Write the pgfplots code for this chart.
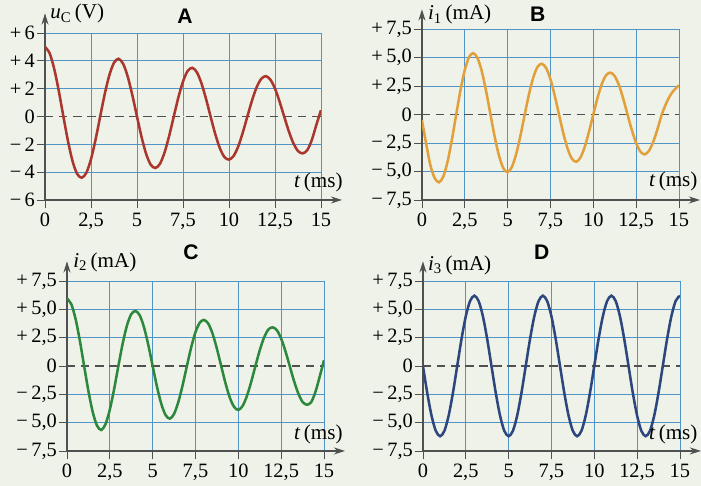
\documentclass[border=0pt]{standalone}
\usepackage{fontspec}
\setmainfont{Liberation Serif}
\newfontfamily\titlefont{Liberation Sans}
\usepackage{pgfplots}
\pgfplotsset{compat=1.18}
\usetikzlibrary{arrows.meta}
\definecolor{bgpaper}{RGB}{238,242,232}
\definecolor{gridblue}{RGB}{80,148,200}
\definecolor{axisgray}{RGB}{80,80,80}
\definecolor{curveA}{RGB}{170,55,45}
\definecolor{curveB}{RGB}{226,160,60}
\definecolor{curveC}{RGB}{45,135,60}
\definecolor{curveD}{RGB}{45,70,125}

\pgfplotsset{
  panel/.style={
    scale only axis, anchor=south west,
    xmin=0, xmax=15,
    xtick={0,2.5,...,15},
    xticklabels={0,{2,5},5,{7,5},10,{12,5},15},
    axis lines=left,
    axis line style={draw=axisgray, line width=0.8pt},
    x axis line style={-{Stealth[length=8pt,width=5pt]}, shorten >=-15pt},
    y axis line style={-{Stealth[length=8pt,width=5pt]}, shorten >=-14pt},
    grid=major,
    grid style={draw=gridblue, line width=0.6pt},
    tick align=outside,
    major tick length=6pt,
    tick style={draw=axisgray, line width=0.6pt},
    tick label style={font=\fontsize{14.5}{16}\selectfont},
    yticklabel style={inner xsep=1pt},
  },
  mA/.style={
    ymin=-7.5, ymax=7.5,
    ytick={-7.5,-5,...,7.5},
    yticklabels={{−\,7,5},{−\,5,0},{−\,2,5},0,{+\,2,5},{+\,5,0},{+\,7,5}},
  },
  zerobg/.style={draw=bgpaper, line width=1.4pt},
  zero/.style={draw=axisgray, line width=0.9pt, dash pattern=on 6pt off 4pt},
  curve/.style={smooth, line width=1.8pt},
}

\begin{document}
\begin{tikzpicture}
\fill[bgpaper] (0,0) rectangle (17.525cm,12.15cm);

% A
\begin{axis}[panel, at={(1.125cm,7.15cm)}, width=6.9cm, height=4.175cm,
  ymin=-6, ymax=6, ytick={-6,-4,...,6},
  yticklabels={−\,6,−\,4,−\,2,0,+\,2,+\,4,+\,6}]
\addplot[zerobg] coordinates {(0,0) (15,0)};
\addplot[zero] coordinates {(0,0) (15,0)};
\addplot[curve, curveA] coordinates {
(0,5.00)(0.25,4.55)(0.5,3.43)(0.75,1.83)(1,0)(1.25,-1.77)(1.5,-3.22)(1.75,-4.13)
(2,-4.40)(2.25,-4.04)(2.5,-3.07)(2.75,-1.65)(3,0)(3.25,1.63)(3.5,2.98)(3.75,3.86)
(4,4.15)(4.25,3.78)(4.5,2.85)(4.75,1.52)(5,0)(5.25,-1.48)(5.5,-2.70)(5.75,-3.47)
(6,-3.70)(6.25,-3.40)(6.5,-2.58)(6.75,-1.39)(7,0)(7.25,1.37)(7.5,2.51)(7.75,3.26)
(8,3.50)(8.25,3.19)(8.5,2.40)(8.75,1.28)(9,0)(9.25,-1.24)(9.5,-2.26)(9.75,-2.91)
(10,-3.10)(10.25,-2.84)(10.5,-2.16)(10.75,-1.16)(11,0)(11.25,1.14)(11.5,2.09)(11.75,2.70)
(12,2.90)(12.25,2.65)(12.5,2.01)(12.75,1.07)(13,0)(13.25,-1.05)(13.5,-1.92)(13.75,-2.48)
(14,-2.65)(14.25,-2.43)(14.5,-1.70)(14.75,-0.60)(15,0.45)};
\end{axis}

% B
\begin{axis}[panel, mA, at={(10.55cm,7.15cm)}, width=6.425cm, height=4.275cm]
\addplot[zerobg] coordinates {(0,0) (15,0)};
\addplot[zero] coordinates {(0,0) (15,0)};
\addplot[curve, curveB] coordinates {
(0,-0.5)(0.25,-2.6)(0.5,-4.5)(0.75,-5.6)(1,-5.95)(1.25,-5.43)(1.5,-4.11)(1.75,-2.20)
(2,0)(2.25,2.14)(2.5,3.90)(2.75,5.04)(3,5.38)(3.25,4.93)(3.5,3.75)(3.75,2.01)
(4,0)(4.25,-1.98)(4.5,-3.63)(4.75,-4.71)(5,-5.06)(5.25,-4.60)(5.5,-3.47)(5.75,-1.85)
(6,0)(6.25,1.79)(6.5,3.25)(6.75,4.19)(7,4.45)(7.25,4.07)(7.5,3.10)(7.75,1.66)
(8,0)(8.25,-1.63)(8.5,-2.99)(8.75,-3.87)(9,-4.15)(9.25,-3.78)(9.5,-2.85)(9.75,-1.52)
(10,0)(10.25,1.47)(10.5,2.68)(10.75,3.45)(11,3.67)(11.25,3.37)(11.5,2.57)(11.75,1.38)
(12,0)(12.25,-1.36)(12.5,-2.50)(12.75,-3.25)(13,-3.50)(13.25,-3.19)(13.5,-2.40)(13.75,-1.28)
(14,0)(14.25,0.95)(14.5,1.7)(14.75,2.2)(15,2.55)};
\end{axis}

% C
\begin{axis}[panel, mA, at={(1.675cm,0.875cm)}, width=6.425cm, height=4.25cm]
\addplot[zerobg] coordinates {(0,0) (15,0)};
\addplot[zero] coordinates {(0,0) (15,0)};
\addplot[curve, curveC] coordinates {
(0,5.95)(0.25,5.46)(0.5,4.16)(0.75,2.24)(1,0)(1.25,-2.21)(1.5,-4.05)(1.75,-5.26)
(2,-5.65)(2.25,-5.13)(2.5,-3.85)(2.75,-2.05)(3,0)(3.25,1.97)(3.5,3.57)(3.75,4.57)
(4,4.85)(4.25,4.46)(4.5,3.39)(4.75,1.83)(5,0)(5.25,-1.81)(5.5,-3.32)(5.75,-4.32)
(6,-4.65)(6.25,-4.23)(6.5,-3.18)(6.75,-1.70)(7,0)(7.25,1.64)(7.5,2.98)(7.75,3.82)
(8,4.06)(8.25,3.73)(8.5,2.84)(8.75,1.53)(9,0)(9.25,-1.51)(9.5,-2.78)(9.75,-3.60)
(10,-3.88)(10.25,-3.53)(10.5,-2.66)(10.75,-1.42)(11,0)(11.25,1.37)(11.5,2.50)(11.75,3.21)
(12,3.41)(12.25,3.16)(12.5,2.42)(12.75,1.31)(13,0)(13.25,-1.31)(13.5,-2.42)(13.75,-3.17)
(14,-3.42)(14.25,-3.2)(14.5,-2.3)(14.75,-0.95)(15,0.5)};
\end{axis}

% D
\begin{axis}[panel, mA, at={(10.575cm,0.875cm)}, width=6.425cm, height=4.25cm]
\addplot[zerobg] coordinates {(0,0) (15,0)};
\addplot[zero] coordinates {(0,0) (15,0)};
\addplot[curve, curveD] coordinates {
(0,0)(0.25,-2.37)(0.5,-4.38)(0.75,-5.73)(1,-6.2)(1.25,-5.73)(1.5,-4.38)(1.75,-2.37)
(2,0)(2.25,2.37)(2.5,4.38)(2.75,5.73)(3,6.2)(3.25,5.73)(3.5,4.38)(3.75,2.37)
(4,0)(4.25,-2.37)(4.5,-4.38)(4.75,-5.73)(5,-6.2)(5.25,-5.73)(5.5,-4.38)(5.75,-2.37)
(6,0)(6.25,2.37)(6.5,4.38)(6.75,5.73)(7,6.2)(7.25,5.73)(7.5,4.38)(7.75,2.37)
(8,0)(8.25,-2.37)(8.5,-4.38)(8.75,-5.73)(9,-6.2)(9.25,-5.73)(9.5,-4.38)(9.75,-2.37)
(10,0)(10.25,2.37)(10.5,4.38)(10.75,5.73)(11,6.2)(11.25,5.73)(11.5,4.38)(11.75,2.37)
(12,0)(12.25,-2.37)(12.5,-4.38)(12.75,-5.73)(13,-6.2)(13.25,-5.73)(13.5,-4.38)(13.75,-2.37)
(14,0)(14.25,2.37)(14.5,4.38)(14.75,5.73)(15,6.2)};
\end{axis}

% labels, placed in pixel units of the reference
\begin{scope}[x=0.025cm, y=-0.025cm, shift={(0,12.15cm)},
  every node/.style={inner sep=0pt, font=\fontsize{15}{17}\selectfont}]
\node[anchor=base west] at (50,19) {\textit{u}\textsubscript{C}\,(V)};
\node[anchor=base west] at (428,20) {\textit{i}\textsubscript{1}\,(mA)};
\node[anchor=base west] at (73,268) {\textit{i}\textsubscript{2}\,(mA)};
\node[anchor=base west] at (428,271) {\textit{i}\textsubscript{3}\,(mA)};
\node[anchor=base east] at (343,188) {\textit{t}\,(ms)};
\node[anchor=base east] at (698,187) {\textit{t}\,(ms)};
\node[anchor=base east] at (343,440) {\textit{t}\,(ms)};
\node[anchor=base east] at (698,440) {\textit{t}\,(ms)};
\node[anchor=base, font=\titlefont\bfseries\fontsize{15}{17}\selectfont] at (185,24) {A};
\node[anchor=base, font=\titlefont\bfseries\fontsize{15}{17}\selectfont] at (538,22) {B};
\node[anchor=base, font=\titlefont\bfseries\fontsize{15}{17}\selectfont] at (191,260) {C};
\node[anchor=base, font=\titlefont\bfseries\fontsize{15}{17}\selectfont] at (542,260) {D};
\end{scope}
\end{tikzpicture}
\end{document}
